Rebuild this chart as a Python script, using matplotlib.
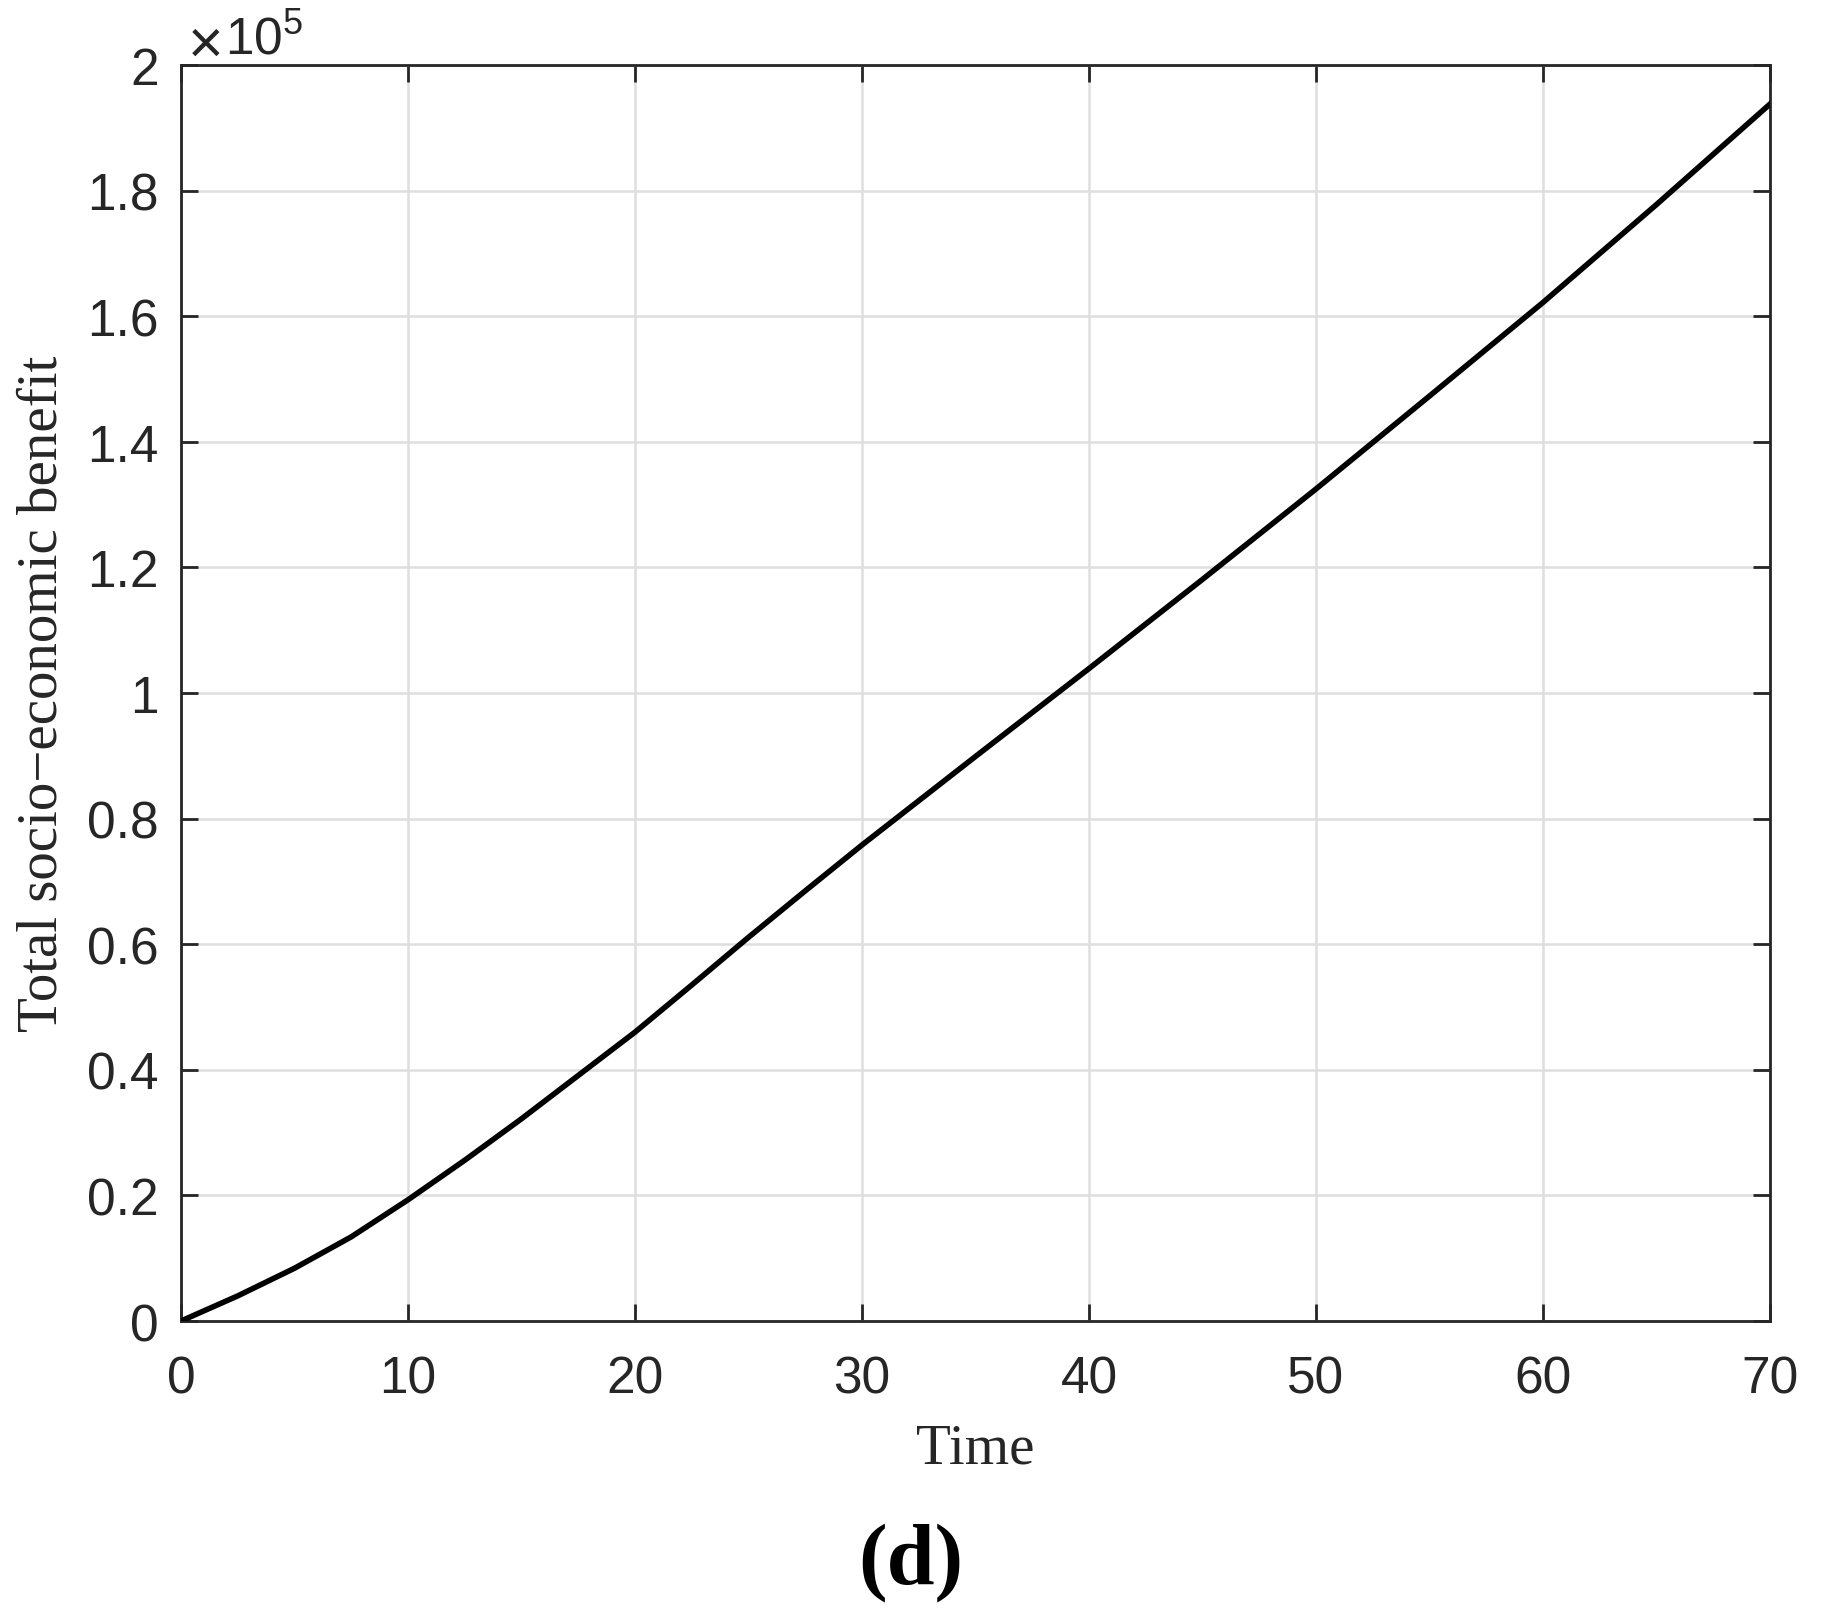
import matplotlib
matplotlib.use('Agg')
import matplotlib.pyplot as plt
from matplotlib.ticker import FuncFormatter

# values (benefit in absolute units)
time = [0, 2.5, 5, 7.5, 10, 12.5, 15, 17.5, 20, 22.5, 25, 27.5, 30,
        35, 40, 45, 50, 55, 60, 65, 70]
benefit = [0, 4000, 8400, 13400, 19300, 25600, 32200, 39100, 46000, 53500,
           61100, 68500, 75800, 89900, 103900, 118100, 132500, 147300,
           162200, 177800, 193800]
xticks = [0, 10, 20, 30, 40, 50, 60, 70]
yticks = [0, 20000, 40000, 60000, 80000, 100000, 120000, 140000, 160000, 180000, 200000]

plt.rcParams['font.family'] = 'Liberation Sans'
plt.rcParams['mathtext.default'] = 'regular'
dark = '#262626'

fig = plt.figure(figsize=(18.22, 16.15), dpi=100)
ax = fig.add_axes([0.0993, 0.1814, 0.8722, 0.7777])

ax.plot(time, benefit, color='black', linewidth=4, zorder=3)

ax.set_xlim(0, 70)
ax.set_ylim(0, 200000)
ax.set_xticks(xticks)
ax.set_yticks(yticks)
ax.yaxis.set_major_formatter(FuncFormatter(lambda v, p: f'{v / 1e5:g}'))

ax.grid(True, color='#dedede', linewidth=1.8)
ax.set_axisbelow(True)
for s in ax.spines.values():
    s.set_linewidth(2)
    s.set_color(dark)
ax.tick_params(direction='in', length=12, width=2, color=dark,
               top=True, right=True, labelsize=37, labelcolor=dark)
ax.tick_params(axis='x', pad=24)
ax.tick_params(axis='y', pad=16)

# exponent label, MATLAB style
ax.text(0.0044, 1.0024, '\u00d7', transform=ax.transAxes, fontsize=44,
        color=dark, ha='left', va='baseline')
ax.text(0.0277, 1.0088, '10$^5$', transform=ax.transAxes, fontsize=37,
        color=dark, ha='left', va='baseline')

ax.set_xlabel('Time', fontfamily='Liberation Serif', fontsize=41,
              color=dark, va='baseline')
ax.xaxis.set_label_coords(0.5, -0.1123)
ax.set_ylabel('Total socio\u2212economic benefit', fontfamily='Liberation Serif',
              fontsize=41, color=dark, va='center')
ax.yaxis.set_label_coords(-0.087, 0.5)

fig.text(0.5, 0.0198, '(d)', fontfamily='Liberation Serif', fontsize=62,
         fontweight='bold', ha='center', va='baseline')

fig.savefig('out.png', dpi=100)
